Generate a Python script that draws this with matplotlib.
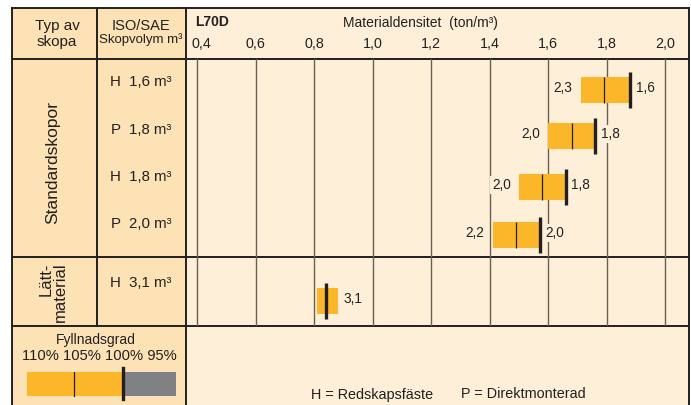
import numpy as np
import matplotlib
matplotlib.use("Agg")
import matplotlib.pyplot as plt
import matplotlib.transforms as mtransforms
from matplotlib.patches import Rectangle
from matplotlib.ticker import FuncFormatter

plt.rcParams['font.family'] = ['Liberation Sans', 'DejaVu Sans']

# bucket rows
bucket_labels = ['H  1,6 m³', 'P  1,8 m³', 'H  1,8 m³', 'P  2,0 m³', 'H  3,1 m³']
# density range covered by each bar (ton/m3)
bar_lo = [1.71, 1.60, 1.50, 1.41, 0.81]
bar_hi = [1.88, 1.76, 1.66, 1.57, 0.88]
mark_105 = [1.79, 1.68, 1.58, 1.49, np.nan]
mark_100 = [1.88, 1.76, 1.66, 1.57, 0.84]
left_text = ['2,3', '2,0', '2,0', '2,2', '']
right_text = ['1,6', '1,8', '1,8', '2,0', '3,1']
density_ticks = [0.4, 0.6, 0.8, 1.0, 1.2, 1.4, 1.6, 1.8, 2.0]
fill_labels = '110% 105% 100% 95%'

# colours
c_left = '#FDE2B6'
c_plot = '#FEF0D8'
c_bar = '#FBB629'
c_grey = '#808184'
c_dark = '#231F20'
c_grid = '#6b5f55'

W, H = 691, 405
fig = plt.figure(figsize=(W / 100, H / 100), dpi=100)

# table frame in pixel coordinates
ax0 = fig.add_axes([0, 0, 1, 1])
ax0.set_xlim(0, W)
ax0.set_ylim(H, 0)
ax0.axis('off')

xL, xC1, xC2, xR = 12, 97, 185.7, 689
yT, yH, yS, yB = 8, 59, 257, 326

ax0.add_patch(Rectangle((xL, yT), xC2 - xL, H - yT, color=c_left, lw=0))
ax0.add_patch(Rectangle((xC2, yT), xR - xC2, H - yT, color=c_plot, lw=0))

lk = dict(color=c_dark, lw=1.4)
ax0.plot([xL, xR], [yT, yT], **lk)
for yy in (yH, yS, yB):
    ax0.plot([xL, xR], [yy, yy], **lk)
ax0.plot([xL, xL], [yT, H], **lk)
ax0.plot([xR, xR], [yT, H], **lk)
ax0.plot([xC2, xC2], [yT, H], **lk)
ax0.plot([xC1, xC1], [yT, yB], **lk)

# header texts
ax0.text(57, 34, 'Typ av\nskopa', ha='center', va='center', fontsize=11,
         color=c_dark, linespacing=1.25)
ax0.text(141, 33, 'ISO/SAE', ha='center', va='bottom', fontsize=10.5, color=c_dark)
ax0.text(141, 40, 'Skopvolym m³', ha='center', va='center', fontsize=9.5, color=c_dark)
ax0.text(195, 22, 'L70D', ha='left', va='center', fontsize=10,
         fontweight='bold', color=c_dark)
ax0.text(420, 23, 'Materialdensitet  (ton/m³)', ha='center', va='center',
         fontsize=10, color=c_dark)

ax0.text(53, 162, 'Standardskopor', rotation=90, ha='center', va='center',
         fontsize=12.5, color=c_dark)
ax0.text(53, 292, 'Lätt-\nmaterial', rotation=90, ha='center', va='center',
         fontsize=12, color=c_dark, multialignment='right', linespacing=0.95)

label_y = [82, 130, 177, 224, 283]
for lab, yy in zip(bucket_labels, label_y):
    ax0.text(141, yy, lab, ha='center', va='center', fontsize=10.8, color=c_dark)

# fill-factor legend
ax0.text(96, 340, 'Fyllnadsgrad', ha='center', va='center', fontsize=10, color=c_dark)
ax0.text(99.5, 356, fill_labels, ha='center', va='center', fontsize=10.6, color=c_dark)
ax0.add_patch(Rectangle((26.7, 371.7), 123.3 - 26.7, 24, color=c_bar, lw=0))
ax0.add_patch(Rectangle((123.3, 371.7), 175.7 - 123.3, 24, color=c_grey, lw=0))
ax0.plot([74.3, 74.3], [371.7, 395.7], color=c_dark, lw=0.9)
ax0.plot([123.3, 123.3], [368.3, 399.3], color=c_dark, lw=2.4)

ax0.text(310.7, 394.5, 'H = Redskapsfäste', ha='left', va='center', fontsize=10.4, color=c_dark)
ax0.text(460.7, 394.5, 'P = Direktmonterad', ha='left', va='center', fontsize=10.4, color=c_dark)

# density axes
unit = 49.5
ax = fig.add_axes([xC2 / W, (H - yB) / H, (xR - xC2) / W, (yB - yH) / H])
ax.set_facecolor('none')
ax.set_xlim(0.36, 2.081)
ax.set_ylim((yB - yH) / unit, 0)
for s in ax.spines.values():
    s.set_visible(False)
ax.set_yticks([])
ax.set_xticks(density_ticks)
ax.xaxis.set_major_formatter(FuncFormatter(lambda v, p: f'{v:.1f}'.replace('.', ',')))
ax.xaxis.set_ticks_position('top')
ax.tick_params(axis='x', length=0, pad=6, labelsize=10.3, labelcolor=c_dark)
ax.grid(axis='x', color=c_grid, lw=1.0)
ax.set_axisbelow(True)

# first tick label sits a little right of its line, clear of the column border
first = ax.xaxis.get_major_ticks()[0].label2
first.set_transform(first.get_transform() +
                    mtransforms.ScaledTranslation(4 / 100, 0, fig.dpi_scale_trans))

row_pos = [0.62, 1.55, 2.59, 3.56, 4.89]
bh = 0.525
ext = 0.1
lo = np.array(bar_lo)
hi = np.array(bar_hi)
ax.barh(row_pos, hi - lo, left=lo, height=bh, color=c_bar, lw=0, zorder=3)
for yy, m5, m0 in zip(row_pos, mark_105, mark_100):
    if not np.isnan(m5):
        ax.vlines(m5, yy - bh / 2, yy + bh / 2, color=c_dark, lw=0.9, zorder=4)
    ax.vlines(m0, yy - bh / 2 - ext, yy + bh / 2 + ext, color=c_dark, lw=2.4, zorder=4)

box = dict(boxstyle='square,pad=0.15', fc=c_plot, ec='none')
for yy, x0, x1, lt, rt in zip(row_pos, bar_lo, bar_hi, left_text, right_text):
    if lt:
        ax.annotate(lt, (x0, yy), xytext=(-6, 1.5), textcoords='offset points',
                    ha='right', va='center', fontsize=9.8, color=c_dark,
                    bbox=box, zorder=5)
    ax.annotate(rt, (x1, yy), xytext=(4, 1.5), textcoords='offset points',
                ha='left', va='center', fontsize=9.8, color=c_dark,
                bbox=box, zorder=5)

fig.savefig('out.png', dpi=100)
